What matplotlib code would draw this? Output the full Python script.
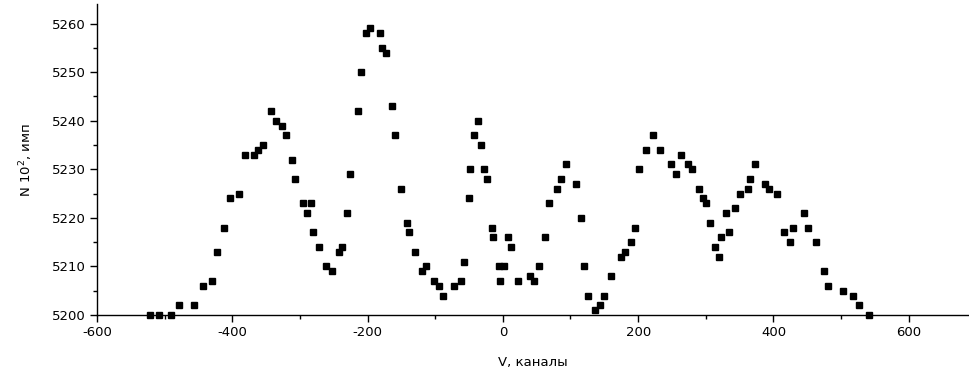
import matplotlib
matplotlib.use("Agg")
import matplotlib.pyplot as plt
from matplotlib.ticker import MultipleLocator

plt.rcParams['font.family'] = ['DejaVu Sans']
plt.rcParams['mathtext.default'] = 'regular'
plt.rcParams['axes.unicode_minus'] = False

# channel number and counts (x100)
channels = [-522, -508, -491, -479, -456, -443, -430, -423, -412, -404, -390, -381,
            -368, -362, -354, -342, -335, -327, -321, -312, -307, -295, -290, -284,
            -281, -272, -261, -252, -242, -238, -230, -226, -214, -210, -202, -196,
            -182, -178, -172, -164, -160, -150, -142, -139, -130, -120, -114, -102,
            -94, -88, -72, -62, -58, -50, -48, -42, -36, -32, -28, -24, -16, -14,
            -6, -4, 1, 8, 12, 22, 40, 46, 53, 63, 68, 80, 86, 94, 108, 116, 120,
            126, 136, 144, 150, 160, 174, 180, 190, 196, 201, 212, 222, 232, 248,
            256, 264, 274, 280, 290, 296, 301, 306, 314, 320, 322, 330, 335, 343,
            350, 362, 366, 373, 387, 394, 405, 415, 425, 429, 445, 451, 463, 474,
            481, 503, 517, 527, 541]
counts = [5200, 5200, 5200, 5202, 5202, 5206, 5207, 5213, 5218, 5224, 5225, 5233,
          5233, 5234, 5235, 5242, 5240, 5239, 5237, 5232, 5228, 5223, 5221, 5223,
          5217, 5214, 5210, 5209, 5213, 5214, 5221, 5229, 5242, 5250, 5258, 5259,
          5258, 5255, 5254, 5243, 5237, 5226, 5219, 5217, 5213, 5209, 5210, 5207,
          5206, 5204, 5206, 5207, 5211, 5224, 5230, 5237, 5240, 5235, 5230, 5228,
          5218, 5216, 5210, 5207, 5210, 5216, 5214, 5207, 5208, 5207, 5210, 5216,
          5223, 5226, 5228, 5231, 5227, 5220, 5210, 5204, 5201, 5202, 5204, 5208,
          5212, 5213, 5215, 5218, 5230, 5234, 5237, 5234, 5231, 5229, 5233, 5231,
          5230, 5226, 5224, 5223, 5219, 5214, 5212, 5216, 5221, 5217, 5222, 5225,
          5226, 5228, 5231, 5227, 5226, 5225, 5217, 5215, 5218, 5221, 5218, 5215,
          5209, 5206, 5205, 5204, 5202, 5200]

fig = plt.figure(figsize=(9.69, 3.72), dpi=100)
ax = fig.add_axes([0.1, 0.153, 0.9, 0.836])

ax.plot(channels, counts, 's', color='black', markersize=4.6, linestyle='none',
        clip_on=False, zorder=3)

ax.set_xlim(-600, 689)
ax.set_ylim(5200, 5264)
ax.xaxis.set_major_locator(MultipleLocator(200))
ax.xaxis.set_minor_locator(MultipleLocator(100))
ax.yaxis.set_major_locator(MultipleLocator(10))
ax.yaxis.set_minor_locator(MultipleLocator(5))

for s in ['top', 'right']:
    ax.spines[s].set_visible(False)
ax.spines['left'].set_linewidth(1.0)
ax.spines['bottom'].set_linewidth(1.0)
ax.tick_params(which='major', direction='out', length=5, width=1, labelsize=9.5, pad=3)
ax.tick_params(which='minor', direction='out', length=3, width=1)

ax.set_xlabel('V, каналы', fontsize=9.5, labelpad=12)
ax.set_ylabel('N 10$^{2}$, имп', fontsize=9.5, labelpad=12)

fig.savefig('out.png', dpi=100)
